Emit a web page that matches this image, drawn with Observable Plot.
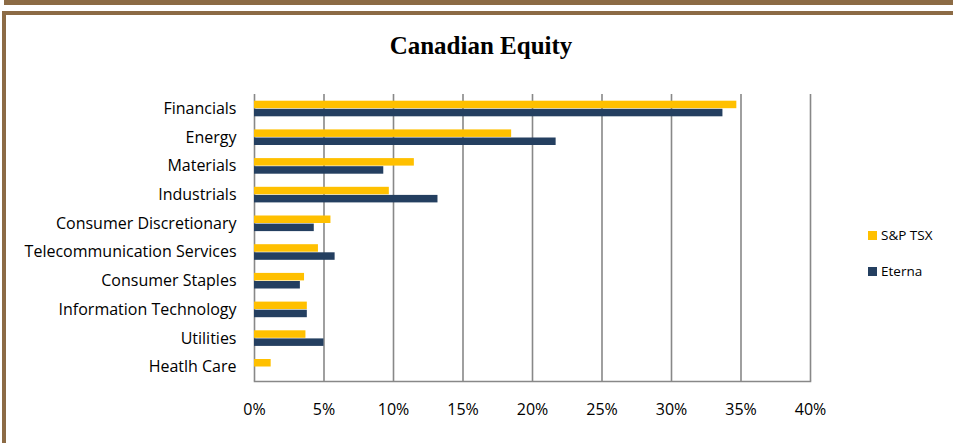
<!DOCTYPE html>
<html>
<head>
<meta charset="utf-8">
<script src="https://cdn.jsdelivr.net/npm/d3@7"></script>
<script src="https://cdn.jsdelivr.net/npm/@observablehq/plot@0.6"></script>
<style>
  html, body { margin: 0; padding: 0; background: #fff; }
  #wrap { position: relative; width: 953px; height: 443px; overflow: hidden; background: #fff; }
  #band { position: absolute; left: 4px; top: 0; width: 949px; height: 5px; background: #8C6B45; }
  #border { position: absolute; left: 2px; top: 11px; width: 960px; height: 440px; border-left: 4px solid #8C6B45; border-top: 4px solid #8C6B45; box-sizing: border-box; }
  #title { position: absolute; left: 0; width: 962px; top: 32px; text-align: center; font-family: "Liberation Serif", serif; font-weight: bold; font-size: 25px; color: #000; }
  #chart { position: absolute; left: 0; top: 70px; }
  #legend { position: absolute; left: 868px; top: 226px; font-family: "Open Sans", sans-serif; font-size: 13.5px; color: #000; }
  .item { display: flex; align-items: center; height: 18px; margin-bottom: 18px; }
  .sw { width: 9px; height: 9px; margin-right: 4px; }
</style>
</head>
<body>
<div id="wrap">
  <div id="band"></div>
  <div id="border"></div>
  <div id="title">Canadian Equity</div>
  <div id="chart"></div>
  <div id="legend"></div>
</div>
<script>
const categories = ["Financials", "Energy", "Materials", "Industrials", "Consumer Discretionary",
  "Telecommunication Services", "Consumer Staples", "Information Technology", "Utilities", "Heatlh Care"];
const seriesNames = ["S&P TSX", "Eterna"];
const spTsx  = [34.7, 18.5, 11.5, 9.7, 5.5, 4.6, 3.6, 3.8, 3.7, 1.2];
const eterna = [33.7, 21.7, 9.3, 13.2, 4.3, 5.8, 3.3, 3.8, 5.0, 0];
const xTicks = [0, 5, 10, 15, 20, 25, 30, 35, 40];
const seriesColors = ["#FFC000", "#243F60"];

const spData = categories.map((c, i) => ({category: c, value: spTsx[i]}));
const etData = categories.map((c, i) => ({category: c, value: eterna[i]}));

const chart = Plot.plot({
  width: 953,
  height: 356,
  marginLeft: 254,
  marginRight: 143,
  marginTop: 24,
  marginBottom: 45,
  style: {fontFamily: "Open Sans, sans-serif", fontSize: "16px", color: "#000", background: "transparent"},
  x: {domain: [0, 40], ticks: xTicks, tickFormat: d => d + "%", tickSize: 0, tickPadding: 22, label: null, fontSize: 17},
  y: {domain: categories, padding: 0, round: false, tickSize: 0, tickPadding: 18, label: null},
  marks: [
    Plot.ruleX(xTicks, {x: d => d, stroke: "#888888", strokeWidth: 1.6}),
    Plot.barX(spData, {y: "category", x: "value", fill: seriesColors[0], insetTop: 6.7, insetBottom: 14.5}),
    Plot.barX(etData, {y: "category", x: "value", fill: seriesColors[1], insetTop: 14.8, insetBottom: 6.4}),
    Plot.frame({anchor: "bottom", stroke: "#888888", strokeWidth: 1.6})
  ]
});
document.getElementById("chart").appendChild(chart);

const legend = document.getElementById("legend");
seriesNames.forEach((name, i) => {
  const item = document.createElement("div");
  item.className = "item";
  const sw = document.createElement("div");
  sw.className = "sw";
  sw.style.background = seriesColors[i];
  const t = document.createElement("span");
  t.textContent = name;
  item.appendChild(sw);
  item.appendChild(t);
  legend.appendChild(item);
});
</script>
</body>
</html>
